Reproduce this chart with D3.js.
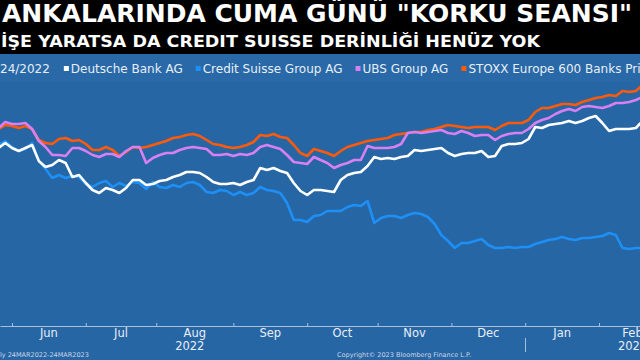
<!DOCTYPE html>
<html>
<head>
<meta charset="utf-8">
<script src="https://cdn.jsdelivr.net/npm/d3@7"></script>
<style>
  html, body { margin: 0; padding: 0; background: #2766a4; }
  svg { display: block; font-family: "DejaVu Sans", Verdana, sans-serif; }
</style>
</head>
<body>
<svg id="chart" width="640" height="360"></svg>
<script>
// DATA (every second trading day, index values, start of series = 100)
const dates = [
  "2022-05-26","2022-05-30","2022-06-01","2022-06-03","2022-06-07","2022-06-09","2022-06-13","2022-06-15","2022-06-17","2022-06-21",
  "2022-06-23","2022-06-27","2022-06-29","2022-07-01","2022-07-05","2022-07-07","2022-07-11","2022-07-13","2022-07-15","2022-07-19",
  "2022-07-21","2022-07-25","2022-07-27","2022-07-29","2022-08-02","2022-08-04","2022-08-08","2022-08-10","2022-08-12","2022-08-16",
  "2022-08-18","2022-08-22","2022-08-24","2022-08-26","2022-08-30","2022-09-01","2022-09-05","2022-09-07","2022-09-09","2022-09-13",
  "2022-09-15","2022-09-19","2022-09-21","2022-09-23","2022-09-27","2022-09-29","2022-10-03","2022-10-05","2022-10-07","2022-10-11",
  "2022-10-13","2022-10-17","2022-10-19","2022-10-21","2022-10-25","2022-10-27","2022-10-31","2022-11-02","2022-11-04","2022-11-08",
  "2022-11-10","2022-11-14","2022-11-16","2022-11-18","2022-11-22","2022-11-24","2022-11-28","2022-11-30","2022-12-02","2022-12-06",
  "2022-12-08","2022-12-12","2022-12-14","2022-12-16","2022-12-20","2022-12-22","2022-12-26","2022-12-28","2022-12-30","2023-01-03",
  "2023-01-05","2023-01-09","2023-01-11","2023-01-13","2023-01-17","2023-01-19","2023-01-23","2023-01-25","2023-01-27","2023-01-31",
  "2023-02-02","2023-02-06","2023-02-08","2023-02-10","2023-02-14","2023-02-16","2023-02-20"
];

const deutsche = [
  108.8,110.8,108.8,107.6,108.8,110,103.6,101.2,102,104,
  102.8,97.2,98,94.8,92,90.8,92.8,92,90.8,92.8,
  96,96,94,94.4,95.6,96,97.2,98,99.2,99.2,
  98.8,97.2,95.2,94.4,94.4,94.8,94,95.2,96,100.8,
  100,100.8,99.6,98.8,94.8,91.6,90,92,92,91.6,
  91.2,96,98,98.8,99.2,101.6,105.2,104.4,104.8,104.4,
  105.2,105.6,108,107.6,108,108.4,108.8,106.8,105.6,106.4,
  106.8,106.8,107.6,105.2,105.6,109.6,110.4,110.4,110.8,112.4,
  117.2,116.8,118,118.4,118.8,119.6,118.8,119.6,120.8,121.6,
  118.8,115.6,116.4,116.4,116.4,116.8,119.6
];

const creditSuisse = [
  110,111.6,109.2,107.6,108.4,110.8,103.6,100.4,96.8,98,
  96.8,97.6,97.2,94.4,93.2,94.8,95.6,93.2,94.8,93.6,
  95.2,94.8,92.4,95.2,93.2,92.8,94,93.2,94.8,95.2,
  94,91.2,90.8,92,91.6,90,91.2,90,90.8,93.2,
  92,91.6,90.8,86.8,80,80,79.2,81.6,82,83.6,
  83.6,83.6,85.2,86,85.6,87.6,78.8,80.8,81.6,81.6,
  80.8,82,82.8,82.4,81.2,78.4,74,71.6,68.8,70.8,
  70.8,71.6,72.4,70,68.8,68.8,69.2,68.8,69.2,69.2,
  70.4,71.2,72,72.4,73.2,72.4,72,72.8,72.8,73.2,
  73.6,74.8,74,68.8,68.4,68.8,68.8
];

const ubs = [
  116.8,119.2,118.4,118.4,118.8,116.4,111.6,109.2,106,106,
  105.6,108.8,108.8,107.6,106,105.2,106.4,106.4,105.2,107.6,
  109.2,109.2,102.8,104.8,106,106.8,106.8,108,108.8,109.2,
  108.8,108.4,106,106,106.4,105.6,106.4,106,106.8,109.2,
  110,109.2,108.4,106,103.2,102.8,102.4,105.2,104,102.8,
  100.8,102,102.8,104,104,109.6,108.8,108.8,108.8,109.2,
  110.4,114.8,115.2,114.8,115.2,115.6,116,114.8,114.4,115.6,
  114.8,113.6,114,114,112,113.6,114.4,114.8,114.8,116.4,
  118.8,120,120.8,122.4,123.6,124.4,123.6,125.2,125.6,125.2,
  124.8,125.6,126.8,126.8,127.2,128,129.2
];

const stoxxBanks = [
  116.4,118,117.6,116.8,117.6,116.4,112,110.8,110.4,112.4,
  112.8,111.6,112,110.4,108,108,109.2,108,105.6,107.2,
  109.2,108.8,109.2,110,110.8,111.6,112.8,113.2,114,114.4,
  113.6,112,110.4,110,109.2,108.8,109.2,110,111.2,114,
  113.6,114.4,113.2,112.8,110,106.8,105.6,108.4,107.6,106.8,
  105.6,107.6,109.2,110,110.8,111.6,112,112.4,112.8,114,
  114.4,114.8,115.2,115.2,116,116.4,117.2,118,117.6,117.2,
  116.8,117.2,117.2,117.2,116,117.6,118.8,118.8,118.8,120,
  123.2,124.8,124.8,125.6,126.4,126.4,126,127.2,128,128.8,
  129.2,130,129.6,131.6,131.2,131.6,134
];

const seriesNames = ["Deutsche Bank AG", "Credit Suisse Group AG", "UBS Group AG", "STOXX Europe 600 Banks Pri"];
const seriesColors = ["#ffffff", "#1e8ff5", "#d880f2", "#ff5a0a"];
const seriesValues = [deutsche, creditSuisse, ubs, stoxxBanks];

const monthLabels = ["Jun", "Jul", "Aug", "Sep", "Oct", "Nov", "Dec", "Jan", "Feb"];
const monthStarts = ["2022-06-01","2022-07-01","2022-08-01","2022-09-01","2022-10-01","2022-11-01","2022-12-01","2023-01-01","2023-02-01","2023-03-01"];
const yearLabels = ["2022", "2023"];
const yearSpans = [["2022-03-28", "2023-01-01"], ["2023-01-01", "2023-03-31"]];

const title = "ANKALARINDA CUMA GÜNÜ \"KORKU SEANSI\"";
const subtitle = "İŞE YARATSA DA CREDIT SUISSE DERİNLİĞİ HENÜZ YOK";
const legendLead = "24/2022";
const footLeft = "ly 24MAR2022-24MAR2023";
const footRight = "Copyright© 2023 Bloomberg Finance L.P.";

// UTILS: x axis runs on trading days (weekdays), like the terminal chart
const parse = d3.utcParse("%Y-%m-%d");
const bizDays = d3.utcDays(parse("2022-03-01"), parse("2023-04-15"))
  .filter(d => d.getUTCDay() % 6 !== 0);
const bizIndex = s => d3.bisectLeft(bizDays, parse(s));

// RENDER
const W = 640, H = 360;
const svg = d3.select("#chart");

svg.append("rect").attr("width", W).attr("height", H).attr("fill", "#2766a4");
svg.append("rect").attr("width", W).attr("height", 54).attr("fill", "#000");
svg.append("rect").attr("y", 54).attr("width", W).attr("height", 28).attr("fill", "#2969a8");

svg.append("text")
  .attr("x", 2).attr("y", 22)
  .attr("font-size", 24).attr("font-weight", "bold").attr("fill", "#fff")
  .attr("textLength", 630).attr("lengthAdjust", "spacingAndGlyphs")
  .text(title);

svg.append("text")
  .attr("x", 1).attr("y", 47)
  .attr("font-size", 16.5).attr("font-weight", "bold").attr("fill", "#fff")
  .attr("textLength", 539).attr("lengthAdjust", "spacingAndGlyphs")
  .text(subtitle);

// legend
const legend = svg.append("g").attr("font-size", 12).attr("fill", "#e8eef6");
const lead = legend.append("text").attr("x", 0).attr("y", 73).text(legendLead);
let lx = lead.node().getComputedTextLength() + 14;
seriesNames.forEach((name, i) => {
  legend.append("rect")
    .attr("x", lx).attr("y", 66).attr("width", 5).attr("height", 5)
    .attr("fill", seriesColors[i]);
  const t = legend.append("text").attr("x", lx + 7).attr("y", 73).text(name);
  lx += 7 + t.node().getComputedTextLength() + 13;
});

// scales
const x = d3.scaleLinear()
  .domain([bizIndex("2022-06-01"), bizIndex("2023-02-01")])
  .range([12, 599]);
const y = d3.scaleLinear().domain([40, 136]).range([320, 80]);

const line = d3.line()
  .x(d => x(d.i))
  .y(d => y(d.v));

// draw so that Deutsche Bank ends up on top
d3.range(seriesValues.length).reverse().forEach(k => {
  const pts = dates.map((d, j) => ({ i: bizIndex(d), v: seriesValues[k][j] }));
  svg.append("path")
    .datum(pts)
    .attr("d", line)
    .attr("fill", "none")
    .attr("stroke", seriesColors[k])
    .attr("stroke-width", 2.6)
    .attr("stroke-linejoin", "round");
});

// x axis
const axisY = 326;
const xAxisScale = x.copy().domain([x.invert(0), x.invert(W)]).range([0, W]);
const axis = svg.append("g")
  .attr("transform", `translate(0,${axisY})`)
  .call(d3.axisBottom(xAxisScale)
    .tickValues(monthStarts.map(bizIndex))
    .tickSizeInner(-3).tickSizeOuter(0)
    .tickFormat(""));
axis.select(".domain").attr("stroke", "#a8c0dc");
axis.selectAll(".tick line").attr("stroke", "#a8c0dc");

svg.append("g")
  .attr("font-size", 11.5).attr("fill", "#e8eef6").attr("text-anchor", "middle")
  .selectAll("text")
  .data(monthLabels)
  .join("text")
  .attr("x", (d, i) => (x(bizIndex(monthStarts[i])) + x(bizIndex(monthStarts[i + 1]))) / 2)
  .attr("y", 337)
  .text(d => d);

svg.append("g")
  .attr("font-size", 11.5).attr("fill", "#e8eef6").attr("text-anchor", "middle")
  .selectAll("text")
  .data(yearLabels)
  .join("text")
  .attr("x", (d, i) => (x(bizIndex(yearSpans[i][0])) + x(bizIndex(yearSpans[i][1]))) / 2)
  .attr("y", 350)
  .text(d => d);

const sepX = Math.round(x(bizIndex("2023-01-01"))) + 0.5;
svg.append("line")
  .attr("x1", sepX).attr("x2", sepX).attr("y1", 338).attr("y2", 352)
  .attr("stroke", "#a8c0dc");

// footer
svg.append("text").attr("x", 0).attr("y", 357)
  .attr("font-size", 6.5).attr("fill", "#c8d5e6").text(footLeft);
svg.append("text").attr("x", 337).attr("y", 357)
  .attr("font-size", 6.5).attr("fill", "#c8d5e6").text(footRight);
</script>
</body>
</html>
